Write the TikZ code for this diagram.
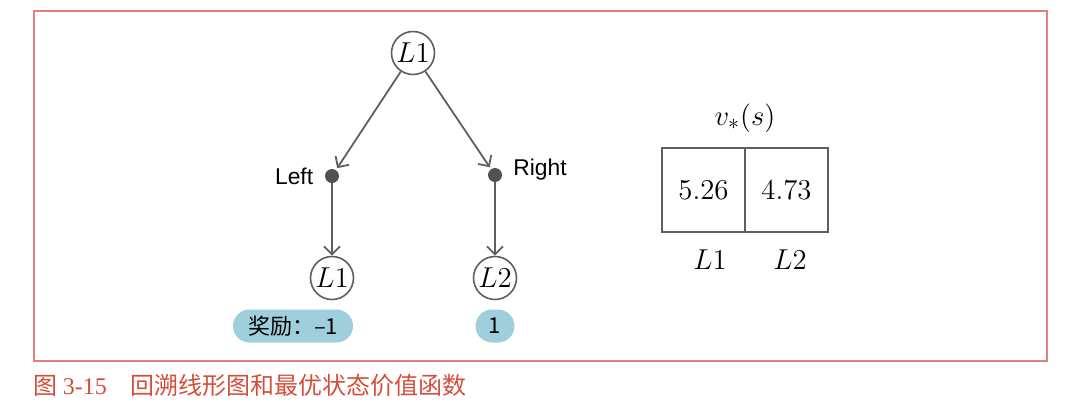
\documentclass[tikz,border=0pt]{standalone}
\usepackage{fontspec}
\setsansfont{Liberation Sans}
\newfontfamily\cjk{Noto Sans CJK SC}
\newfontfamily\capserif{Liberation Serif}
\usetikzlibrary{positioning,arrows.meta}
\definecolor{framered}{RGB}{224,128,122}
\definecolor{captionred}{RGB}{212,78,58}
\definecolor{pillblue}{RGB}{159,207,220}
\definecolor{linegray}{RGB}{95,95,95}

\tikzset{
  state/.style={circle, draw=linegray, line width=0.8pt, minimum size=21.5pt, inner sep=0pt, font=\fontsize{14.5}{16}\selectfont},
  choice/.style={circle, fill=linegray!85!black, minimum size=7pt, inner sep=0pt},
  reward/.style={fill=pillblue, rounded corners=8.25pt, minimum height=16.5pt, inner sep=0pt, font=\cjk\fontsize{11}{13}\selectfont},
  cell/.style={draw=linegray, line width=0.9pt, minimum width=41.5pt, minimum height=42pt, font=\fontsize{15.5}{17}\selectfont},
  action/.style={font=\sffamily\fontsize{11.4}{13}\selectfont},
  flow/.style={-{Straight Barb[length=4pt,width=8pt]}, draw=linegray, line width=0.9pt}
}

\begin{document}
\begin{tikzpicture}[x=0.5pt,y=-0.5pt]
  \useasboundingbox (0,0) rectangle (1072,414);
  \draw[framered, line width=0.75pt] (34,11) rectangle (1047,361);

  % backup diagram
  \node[state] (s0) at (413,53) {$L1$};
  \node[choice] (left) at (332,176) {};
  \node[choice] (right) at (495,175) {};
  \node[state] (s1) at (332,278) {$L1$};
  \node[state] (s2) at (495,278) {$L2$};
  \node[action, left=2.2pt of left] (leftlabel) {Left};
  \node[action, right=2pt of right, yshift=2.5pt] (rightlabel) {Right};
  \node[reward, minimum width=60pt] (r1) at (293,326) {奖励：–1};
  \node[reward, minimum width=19.5pt] (r2) at (495,326) {1};

  \path[flow]
  (s0)    edge [shorten >=1pt] (left)
          edge [shorten >=1pt] (right)
  (left)  edge (s1)
  (right) edge (s2)
  ;

  % optimal state values
  \node[cell] (v1) at (703.5,190) {$5.26$};
  \node[cell] (v2) at (786.5,190) {$4.73$};
  \node[font=\fontsize{15}{17}\selectfont] (vtitle) at (745,118) {$v_*(s)$};
  \node[font=\fontsize{14.5}{16}\selectfont] (n1) at (710,260) {$L1$};
  \node[font=\fontsize{14.5}{16}\selectfont] (n2) at (790,260) {$L2$};

  \node[anchor=west, text=captionred, inner sep=0pt, font=\fontsize{12}{14}\selectfont] (caption) at (33,385)
    {\cjk 图 \capserif 3-15\quad\cjk 回溯线形图和最优状态价值函数};
\end{tikzpicture}
\end{document}
